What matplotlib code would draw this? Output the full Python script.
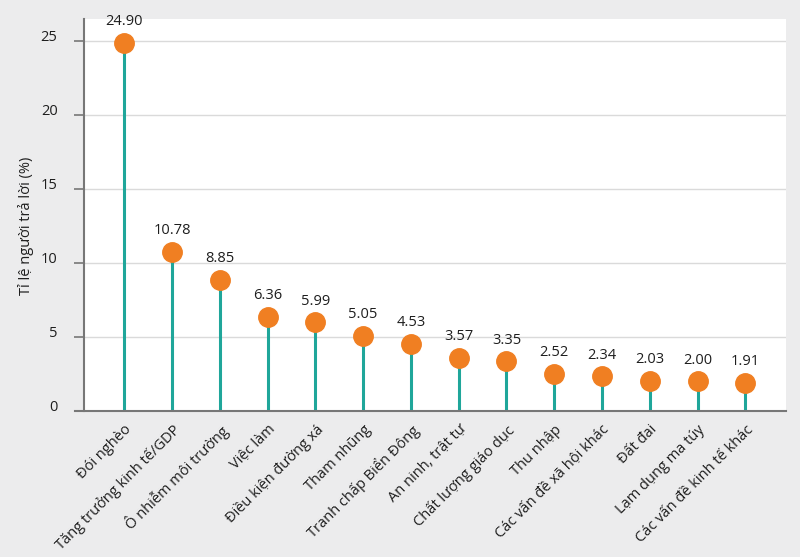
import numpy as np
import matplotlib
matplotlib.use('Agg')
import matplotlib.pyplot as plt
import matplotlib.transforms as mtransforms

plt.rcParams['font.family'] = ['Open Sans', 'DejaVu Sans']

# categories and values
categories = ['Đói nghèo', 'Tăng trưởng kinh tế/GDP', 'Ô nhiễm môi trường', 'Việc làm',
              'Điều kiện đường xá', 'Tham nhũng', 'Tranh chấp Biển Đông', 'An ninh, trật tự',
              'Chất lượng giáo dục', 'Thu nhập', 'Các vấn đề xã hội khác', 'Đất đai',
              'Lạm dụng ma túy', 'Các vấn đề kinh tế khác']
values = [24.90, 10.78, 8.85, 6.36, 5.99, 5.05, 4.53, 3.57, 3.35, 2.52, 2.34, 2.03, 2.00, 1.91]
yticks = [0, 5, 10, 15, 20, 25]

bg = '#ececed'
stem_col = '#1fa69a'
dot_col = '#f07f22'
txt_col = '#1e1e1e'

fig = plt.figure(figsize=(8, 5.57), dpi=100, facecolor=bg)
ax = fig.add_axes([0.105, 0.262, 0.8775, 0.704])
ax.set_facecolor('white')

x = np.arange(len(categories))
ax.vlines(x, 0, values, color=stem_col, lw=2.2, zorder=2)
ax.plot(x, values, 'o', color=dot_col, ms=14, zorder=3)
for xi, v in zip(x, values):
    ax.annotate('%.2f' % v, (xi, v), xytext=(0, 10), textcoords='offset points',
                ha='center', va='bottom', fontsize=10.5, color=txt_col)

ax.set_xlim(-0.84, 13.85)
ax.set_ylim(0, 26.5)
ax.set_yticks(yticks)
ax.set_xticks(x)
ax.set_xticklabels(categories, rotation=45, ha='right', rotation_mode='anchor',
                   fontsize=10.5, color=txt_col)
ax.tick_params(axis='x', length=0, pad=8)
ax.tick_params(axis='y', length=7, width=1.2, color='#777777', labelsize=10.5,
               labelcolor=txt_col, pad=12)
# y tick labels sit a bit above their ticks in the reference
off = mtransforms.ScaledTranslation(0, 6 / 100, fig.dpi_scale_trans)
for lab in ax.get_yticklabels():
    lab.set_transform(lab.get_transform() + off)

ax.grid(axis='y', color='#dadada', lw=1)
ax.set_axisbelow(True)
for s in ['top', 'right']:
    ax.spines[s].set_visible(False)
for s in ['left', 'bottom']:
    ax.spines[s].set_color('#777777')
    ax.spines[s].set_linewidth(1.5)
ax.spines['bottom'].set_bounds(-1.03, 13.85)

ax.set_ylabel('Tỉ lệ người trả lời (%)', fontsize=10.5, color=txt_col)
ax.yaxis.set_label_coords(-0.071, 0.472)

fig.savefig('out.png', dpi=100, facecolor=bg)
